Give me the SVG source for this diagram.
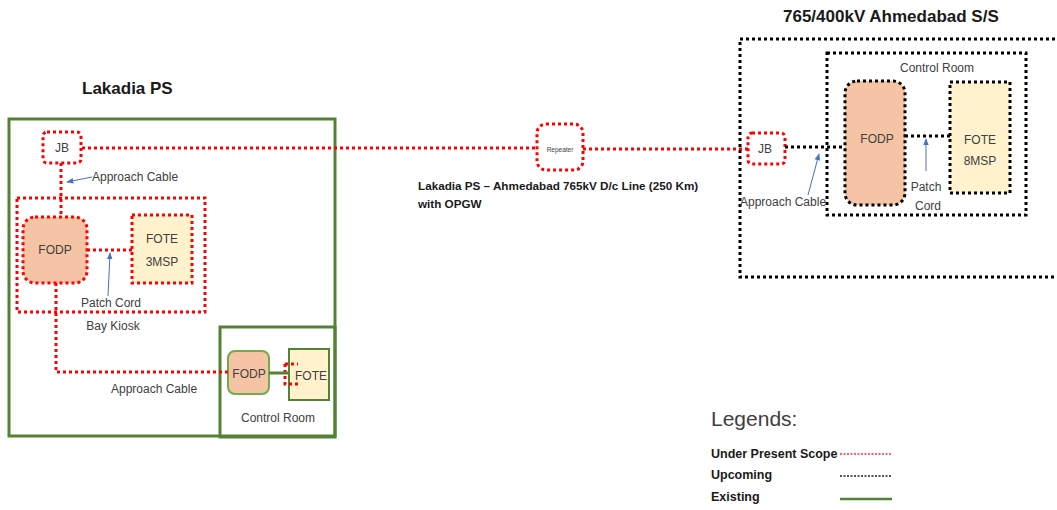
<svg xmlns="http://www.w3.org/2000/svg" width="1057" height="510" viewBox="0 0 1057 510">
<defs>
<style>
text{font-family:"Liberation Sans",Arial,sans-serif;fill:#404040}
.title{font-weight:bold;font-size:17px;fill:#1a1a1a}
.lbl{font-size:12px}
.bold{font-weight:bold;font-size:11.7px;fill:#1a1a1a}
.leg{font-weight:bold;font-size:12.5px;fill:#1a1a1a}
.red{fill:none;stroke:#ff0000;stroke-width:3;stroke-dasharray:3 3}
.blk{fill:none;stroke:#000;stroke-width:3;stroke-dasharray:3 3}
.grn{fill:none;stroke:#548235;stroke-width:3}
.fodp{fill:#f4c4a4}
.fote{fill:#fff2cc}
.blue{stroke:#4472c4;stroke-width:1;fill:none}
</style>
<marker id="ah" viewBox="0 0 10 10" refX="9" refY="5" markerWidth="7" markerHeight="7" orient="auto-start-reverse">
<path d="M0,1 L10,5 L0,9 z" fill="#4472c4"/>
</marker>
</defs>
<rect width="1057" height="510" fill="#fff"/>

<g id="lakadia">
<text class="title" x="82" y="94">Lakadia PS</text>
<rect class="grn" x="9" y="119" width="326" height="317"/>
</g>

<g id="jb-left">
<rect class="red" x="43" y="132" width="38" height="31" rx="4"/>
<text class="lbl" x="62" y="152" text-anchor="middle">JB</text>
</g>

<g id="bay-kiosk">
<rect class="red" x="17" y="198" width="188" height="114"/>
<text class="lbl" x="113" y="330" text-anchor="middle">Bay Kiosk</text>
</g>

<g id="fodp-bay">
<rect class="fodp" x="23" y="217" width="64" height="66" rx="12"/>
<rect class="red" x="23" y="217" width="64" height="66" rx="12"/>
<text class="lbl" x="55" y="254" text-anchor="middle">FODP</text>
</g>

<g id="fote-3msp">
<rect class="fote" x="132" y="215" width="60" height="68"/>
<rect class="red" x="132" y="215" width="60" height="68"/>
<text class="lbl" x="162" y="243" text-anchor="middle">FOTE</text>
<text class="lbl" x="162" y="266" text-anchor="middle">3MSP</text>
</g>

<g id="control-room-left">
<rect class="grn" x="220" y="327" width="115" height="110"/>
<text class="lbl" x="278" y="422" text-anchor="middle">Control Room</text>
</g>

<g id="fodp-cr">
<rect class="fodp" x="228" y="351" width="41" height="43" rx="7" stroke="#70ad47" stroke-width="2"/>
<text class="lbl" x="249" y="378" text-anchor="middle">FODP</text>
</g>

<g id="fote-cr">
<rect class="fote" x="289" y="349" width="40" height="51" stroke="#548235" stroke-width="2"/>
<text class="lbl" x="311" y="380" text-anchor="middle">FOTE</text>
<path class="red" d="M285,364 H298 M285,364 V384 H298" stroke-width="2.5"/>
</g>

<g id="repeater">
<rect fill="#fff" x="537" y="124" width="46" height="46" rx="9"/>
<rect class="red" x="537" y="124" width="46" height="46" rx="9"/>
<text x="560" y="152" text-anchor="middle" font-size="6.5">Repeater</text>
</g>

<g id="ahmedabad">
<text class="title" x="783" y="22">765/400kV Ahmedabad  S/S</text>
<rect class="blk" x="740" y="39" width="320" height="238"/>
</g>

<g id="control-room-right">
<rect class="blk" x="827" y="53" width="199" height="162"/>
<text class="lbl" x="937" y="72" text-anchor="middle">Control Room</text>
</g>

<g id="fodp-right">
<rect class="fodp" x="845" y="81" width="60" height="124" rx="12"/>
<rect class="blk" x="845" y="81" width="60" height="124" rx="12"/>
<text class="lbl" x="877" y="143" text-anchor="middle">FODP</text>
</g>

<g id="fote-8msp">
<rect class="fote" x="950" y="82" width="60" height="111"/>
<rect class="blk" x="950" y="82" width="60" height="111"/>
<text class="lbl" x="980" y="144" text-anchor="middle">FOTE</text>
<text class="lbl" x="980" y="165" text-anchor="middle">8MSP</text>
</g>

<g id="jb-right">
<rect fill="#fff" x="748" y="133" width="37" height="31" rx="4"/>
<rect class="red" x="748" y="133" width="37" height="31" rx="4"/>
<text class="lbl" x="765" y="153" text-anchor="middle">JB</text>
</g>

<g id="connectors">
<path class="red" d="M82,148 H537"/>
<path class="red" d="M583,149 H748"/>
<path class="red" d="M61,163 V217"/>
<path class="red" d="M87,250 H132"/>
<path class="red" d="M56,283 V372 H228"/>
<path class="grn" d="M269,373 H289"/>
<path class="blk" d="M785,147 H845"/>
<path class="blk" d="M905,136 H950"/>
<path class="blue" d="M92,177 L67,182" marker-end="url(#ah)"/>
<path class="blue" d="M108,296 L110,253" marker-end="url(#ah)"/>
<path class="blue" d="M926,171 L926,139" marker-end="url(#ah)"/>
<path class="blue" d="M808,195 L819,154" marker-end="url(#ah)"/>
</g>

<g id="labels">
<text class="lbl" x="92" y="181">Approach Cable</text>
<text class="lbl" x="81" y="307">Patch Cord</text>
<text class="lbl" x="111" y="393">Approach Cable</text>
<text class="lbl" x="740" y="206">Approach Cable</text>
<text class="lbl" x="926" y="191" text-anchor="middle">Patch</text>
<text class="lbl" x="928" y="210" text-anchor="middle">Cord</text>
<text class="bold" x="418" y="190">Lakadia PS – Ahmedabad 765kV D/c Line (250 Km)</text>
<text class="bold" x="418" y="208">with OPGW</text>
</g>

<g id="legend">
<text x="711" y="426" font-size="21" fill="#262626">Legends:</text>
<text class="leg" x="711" y="458">Under Present Scope</text>
<text class="leg" x="711" y="479">Upcoming</text>
<text class="leg" x="711" y="501">Existing</text>
<path d="M840,454 H892" stroke="#ff6060" stroke-width="2" stroke-dasharray="2 1.5"/>
<path d="M840,476 H892" stroke="#555" stroke-width="2" stroke-dasharray="2 1.5"/>
<path d="M840,499 H892" stroke="#548235" stroke-width="2.5"/>
</g>
</svg>
